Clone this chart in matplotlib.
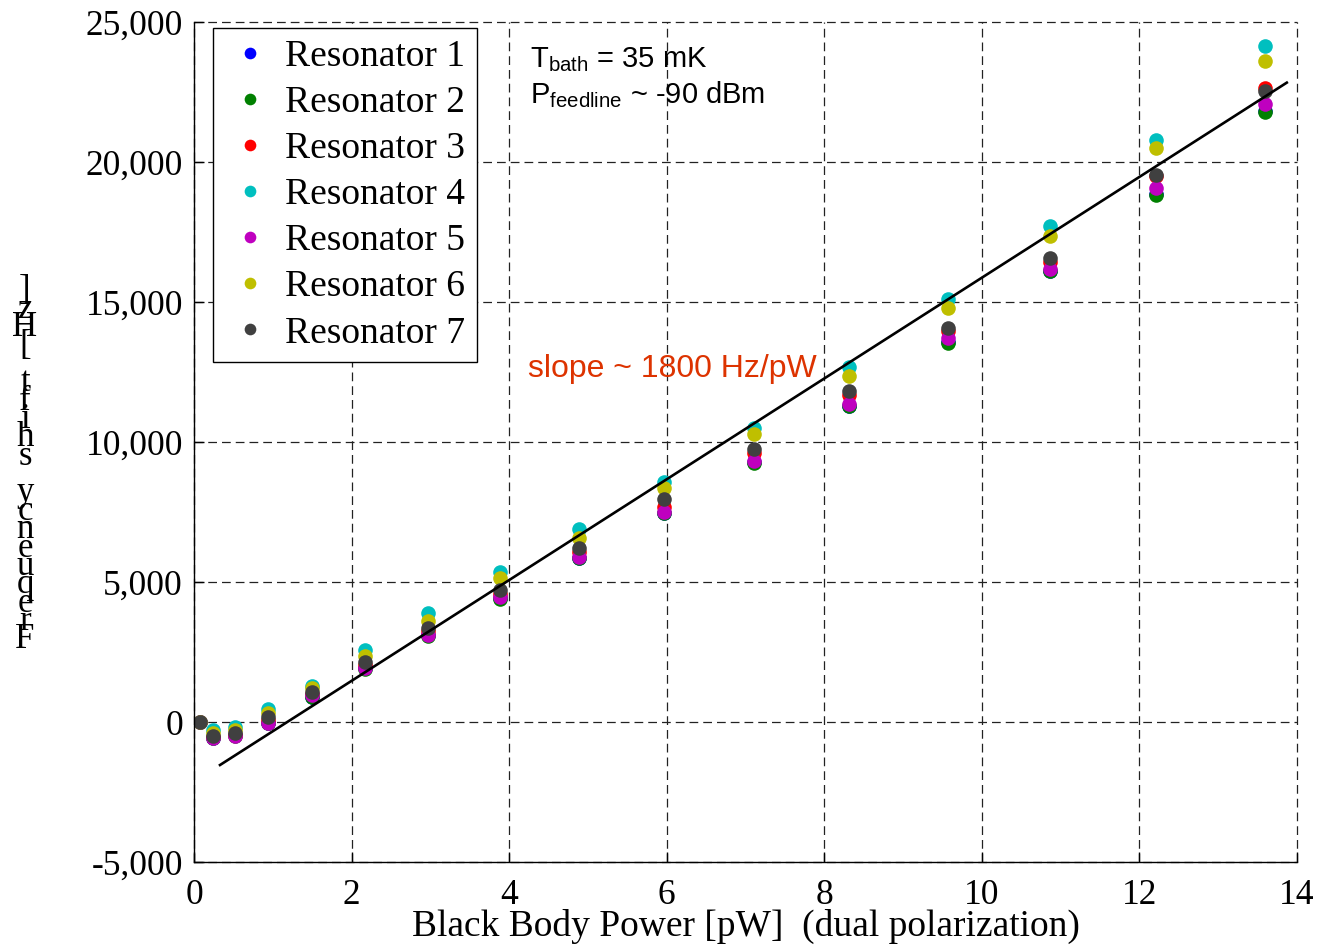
import matplotlib
matplotlib.use("Agg")
import matplotlib.pyplot as plt
import numpy as np

plt.rcParams['font.family'] = ['Liberation Serif', 'DejaVu Serif']
plt.rcParams['mathtext.fontset'] = 'custom'
plt.rcParams['mathtext.rm'] = 'Liberation Sans'
plt.rcParams['mathtext.it'] = 'Liberation Sans'

# Black body power steps [pW]
power = [0.08, 0.24, 0.52, 0.94, 1.50, 2.17, 2.97, 3.88, 4.89, 5.96,
         7.11, 8.31, 9.57, 10.86, 12.21, 13.59]

# Frequency shift per resonator [Hz]
res1 = [0, -560, -480, -40, 910, 1920, 3100, 4420, 5870, 7470,
        9280, 11300, 13560, 16120, 18850, 21820]
res2 = [0, -580, -500, -50, 893, 1900, 3080, 4393, 5850, 7450,
        9250, 11286, 13536, 16107, 18821, 21786]
res3 = [0, -540, -460, 70, 1000, 2036, 3250, 4571, 6071, 7679,
        9607, 11679, 13964, 16430, 19500, 22640]
res4 = [0, -290, -180, 464, 1286, 2571, 3893, 5357, 6893, 8571,
        10500, 12679, 15107, 17714, 20786, 24143]
res5 = [0, -570, -500, -36, 964, 1929, 3107, 4464, 5893, 7500,
        9321, 11357, 13714, 16179, 19071, 22071]
res6 = [0, -390, -290, 321, 1214, 2357, 3607, 5143, 6571, 8357,
        10286, 12357, 14786, 17357, 20500, 23607]
res7 = [0, -500, -390, 179, 1071, 2143, 3357, 4714, 6214, 7964,
        9750, 11821, 14071, 16571, 19536, 22536]

series = [res1, res2, res3, res4, res5, res6, res7]
names = ["Resonator 1", "Resonator 2", "Resonator 3", "Resonator 4",
         "Resonator 5", "Resonator 6", "Resonator 7"]
colors = ["#0000ff", "#008000", "#ff0000", "#00bfbf", "#bf00bf",
          "#bfbf00", "#404040"]

# Linear responsivity fit
slope = 1800.0          # Hz/pW
offset = -2130.0        # Hz
fit_range = [0.33, 13.87]

fig = plt.figure(figsize=(13.18, 9.46), dpi=100)
ax = fig.add_axes([0.1472, 0.0888, 0.8369, 0.8879])

for y, c, n in zip(series, colors, names):
    ax.plot(power, y, linestyle='none', marker='o', markersize=10.5,
            markerfacecolor=c, markeredgecolor='none', label=n, zorder=3)

xf = np.array(fit_range)
ax.plot(xf, slope * xf + offset, color='black', lw=1.9, zorder=4)

ax.set_xlim(0, 14)
ax.set_ylim(-5000, 25000)
ax.set_xticks(np.arange(0, 15, 2))
ax.set_yticks(np.arange(-5000, 25001, 5000))
ax.set_yticklabels([f"{v:,}" for v in range(-5000, 25001, 5000)])

ax.grid(True, color='#222222', linestyle=(0, (7, 4)), lw=0.9)
for gl in ax.get_xgridlines() + ax.get_ygridlines():
    gl.set_clip_on(False)
for s in ['top', 'right']:
    ax.spines[s].set_visible(False)
for s in ['left', 'bottom']:
    ax.spines[s].set_linewidth(1.0)
    ax.spines[s].set_zorder(5)
ax.tick_params(direction='in', length=7, width=1, labelsize=25.5,
               top=False, right=False, pad=8)
ax.tick_params(axis='x', pad=12)

ax.set_xlabel("Black Body Power [pW]  (dual polarization)", fontsize=27,
              labelpad=-2)

# vertically stacked axis title
ylab = "Frequency shift [Hz]"
fig.text(0.019, 0.508, "\n".join(reversed(ylab)), fontsize=25,
         ha='center', va='center', linespacing=0.415)

leg = ax.legend(loc='upper left', bbox_to_anchor=(0.0172, 0.9929),
                borderaxespad=0, fontsize=27, frameon=True, fancybox=False,
                edgecolor='black', markerscale=0.8, labelspacing=0.31,
                handlelength=1.4, handletextpad=0.23, borderpad=0.3)
leg.get_frame().set_linewidth(1.0)
leg.get_frame().set_alpha(1)

fig.text(530 / 1318, 1 - 67 / 946, r"T$_{\mathrm{bath}}$ = 35 mK",
         fontsize=21, family='Liberation Sans', va='baseline')
fig.text(530 / 1318, 1 - 103 / 946, r"P$_{\mathrm{feedline}}$ ~ -90 dBm",
         fontsize=21, family='Liberation Sans', va='baseline')

fig.text(528 / 1318, 1 - 377 / 946, "slope ~ 1800 Hz/pW", color='#dd3300',
         fontsize=23, family='Liberation Sans', va='baseline')

fig.savefig("out.png", dpi=100)
